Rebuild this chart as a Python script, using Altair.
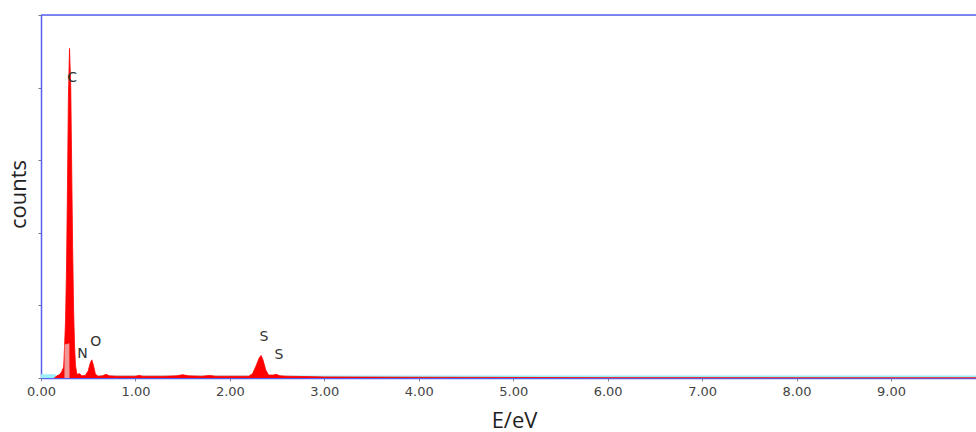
import altair as alt
import pandas as pd

# ---- data ----
energy = [0.14, 0.17, 0.20, 0.22, 0.24, 0.25, 0.26, 0.27, 0.28, 0.29, 0.302, 0.315,
          0.325, 0.335, 0.345, 0.355, 0.365, 0.38, 0.41, 0.43, 0.47, 0.50, 0.52,
          0.538, 0.555, 0.575, 0.60, 0.65, 0.69, 0.72, 0.80, 0.90, 1.00, 1.04,
          1.08, 1.30, 1.44, 1.50, 1.56, 1.70, 1.785, 1.85, 2.00, 2.20, 2.24, 2.28,
          2.31, 2.33, 2.35, 2.38, 2.41, 2.46, 2.49, 2.53, 2.60, 2.80, 3.00, 3.40,
          4.00, 5.00, 6.00, 7.00, 8.00, 9.90]
counts = [0.00, 0.06, 0.10, 0.18, 0.30, 0.90, 1.60, 3.00, 5.20, 7.70, 9.08, 8.00,
          5.80, 3.60, 1.90, 0.90, 0.35, 0.10, 0.12, 0.06, 0.07, 0.20, 0.40,
          0.50, 0.35, 0.12, 0.05, 0.06, 0.10, 0.06, 0.05, 0.05, 0.05, 0.07,
          0.05, 0.05, 0.06, 0.09, 0.06, 0.05, 0.07, 0.05, 0.05, 0.05, 0.12, 0.35,
          0.55, 0.62, 0.50, 0.22, 0.08, 0.08, 0.10, 0.06, 0.05, 0.04, 0.03, 0.025,
          0.02, 0.015, 0.01, 0.01, 0.008, 0.005]

overlay_energy = [0.248, 0.25, 0.30, 0.302]
overlay_counts = [0.0, 0.92, 0.96, 0.0]

bg_energy = [0.0, 0.15, 0.16, 9.9]
bg_counts = [0.10, 0.10, 0.07, 0.07]

label_text = ["C", "N", "O", "S", "S"]
label_energy = [0.33, 0.44, 0.58, 2.36, 2.52]
label_counts = [8.27, 0.66, 0.99, 1.13, 0.63]

x_ticks = [0, 1, 2, 3, 4, 5, 6, 7, 8, 9]
y_ticks = [0, 1, 2, 3, 4, 5, 6, 7, 8, 9, 10]

spec_df = pd.DataFrame({"E": energy, "counts": counts})
ov_df = pd.DataFrame({"E": overlay_energy, "counts": overlay_counts})
bg_df = pd.DataFrame({"E": bg_energy, "counts": bg_counts})
lab_df = pd.DataFrame({"E": label_energy, "counts": label_counts, "t": label_text})

BLUE = "#5560f0"
W, H = 935, 363

xs = alt.Scale(domain=[0, 9.9], nice=False, zero=False)
ys = alt.Scale(domain=[0, 10], nice=False)

x_axis = alt.Axis(values=x_ticks, format=".2f", title="E/eV", grid=False,
                  domainColor=BLUE, domainWidth=1.5, tickColor="#888", tickSize=3,
                  tickWidth=1, labelFlush=False, labelOverlap=False,
                  labelFont="DejaVu Sans", labelFontSize=13, labelColor="#444",
                  labelPadding=4, titleFont="Open Sans", titleFontSize=22,
                  titleFontWeight="normal", titleColor="#222", titleX=473, titleY=49,
                  titleBaseline="alphabetic")
y_axis = alt.Axis(values=y_ticks, labels=False, title="counts", grid=False,
                  domainColor=BLUE, domainWidth=1.5, tickColor="#777", tickSize=3,
                  tickWidth=1, labelOverlap=False,
                  titleFont="Open Sans", titleFontSize=22, titleFontWeight="normal",
                  titleColor="#222", titleX=-16, titleY=179, titleAngle=270,
                  titleBaseline="alphabetic", titleAlign="center")

bg = alt.Chart(bg_df).mark_area(color="#99eef7", interpolate="linear", opacity=1).encode(
    x=alt.X("E:Q", scale=xs, axis=x_axis),
    y=alt.Y("counts:Q", scale=ys, axis=y_axis),
)

spec = alt.Chart(spec_df).mark_area(
    color="#ff0000", interpolate="linear", opacity=1,
    line={"color": "#ff0000", "strokeWidth": 0.8}
).encode(x=alt.X("E:Q", scale=xs), y=alt.Y("counts:Q", scale=ys))

ov = alt.Chart(ov_df).mark_area(color="#f29595", interpolate="linear", opacity=1).encode(
    x=alt.X("E:Q", scale=xs), y=alt.Y("counts:Q", scale=ys))

labels = alt.Chart(lab_df).mark_text(
    font="DejaVu Sans", fontSize=14, color="#333", baseline="middle", align="center"
).encode(x=alt.X("E:Q", scale=xs), y=alt.Y("counts:Q", scale=ys), text="t:N")

top_rule = alt.Chart(pd.DataFrame({"a": [0]})).mark_rule(
    color=BLUE, strokeWidth=1.5
).encode(x=alt.value(0), x2=alt.value(W), y=alt.value(0))

chart = alt.layer(bg, spec, ov, labels, top_rule).properties(
    width=W, height=H,
    autosize=alt.AutoSizeParams(type="none"),
    padding={"left": 41, "top": 15, "right": 0, "bottom": 54},
).configure_view(stroke=None).configure(background="white")

chart.save("out.html", embed_options={"renderer": "svg", "actions": False})
